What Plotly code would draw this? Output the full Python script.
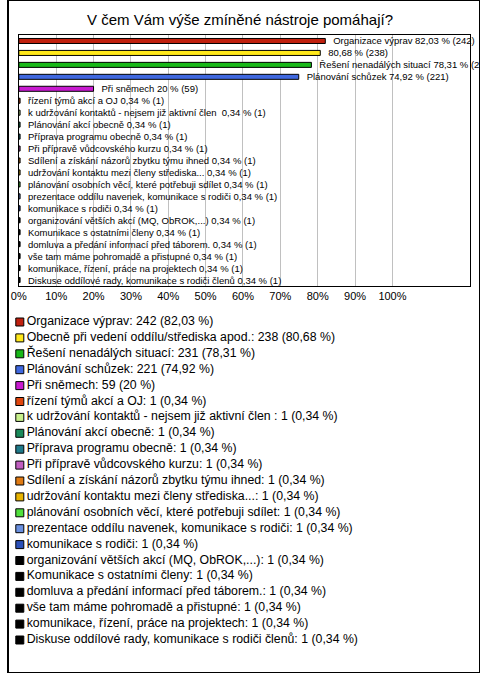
import plotly.graph_objects as go

# ---- data ----
categories = [
    "Organizace výprav",
    "Obecně při vedení oddílu/střediska apod.",
    "Řešení nenadálých situací",
    "Plánování schůzek",
    "Při sněmech",
    "řízení týmů akcí a OJ",
    "k udržování kontaktů - nejsem již aktivní člen ",
    "Plánování akcí obecně",
    "Příprava programu obecně",
    "Při přípravě vůdcovského kurzu",
    "Sdílení a získání názorů zbytku týmu ihned",
    "udržování kontaktu mezi členy střediska...",
    "plánování osobních věcí, které potřebuji sdílet",
    "prezentace oddílu navenek, komunikace s rodiči",
    "komunikace s rodiči",
    "organizování větších akcí (MQ, ObROK,...)",
    "Komunikace s ostatními členy",
    "domluva a předání informací před táborem.",
    "vše tam máme pohromadě a přistupné",
    "komunikace, řízení, práce na projektech",
    "Diskuse oddílové rady, komunikace s rodiči členů",
]
counts = [242, 238, 231, 221, 59] + [1] * 16
percents = [82.03, 80.68, 78.31, 74.92, 20] + [0.34] * 16
# bar label names (the second one is shown without its name in the chart)
bar_names = list(categories)
bar_names[1] = ""
colors = [
    "#c0200e", "#ffe81a", "#18b818", "#3f68e0", "#c81ad0",
    "#e0460e", "#c8f08c", "#1a8a5a", "#1f7a8a", "#c05ec0",
    "#e07a12", "#e8b400", "#50e03c", "#6a90e0", "#2a4fb8",
    "#000000", "#000000", "#000000", "#000000", "#000000", "#000000",
]
tick_vals = [0, 10, 20, 30, 40, 50, 60, 70, 80, 90, 100]
tick_text = [f"{v}%" for v in tick_vals]
title = "V čem Vám výše zmíněné nástroje pomáhají?"


def fmt(p):
    return f"{p:g}".replace(".", ",")


PAD = "\u00a0" * 3
bar_text = [PAD + (f"{n} " if n.strip() else "") + f"{fmt(p)} % ({c})"
            for n, p, c in zip(bar_names, percents, counts)]
legend_text = [f"{n}: {c} ({fmt(p)} %)" for n, p, c in zip(categories, percents, counts)]

W, H = 480, 673
FONT = "Liberation Sans, Arial, sans-serif"

fig = go.Figure()
idx = list(range(len(categories)))

fig.add_trace(go.Bar(
    x=percents, y=idx, orientation="h",
    marker=dict(color=colors, line=dict(color="#000000", width=1)),
    width=0.42,
    text=bar_text, textposition="outside", cliponaxis=False, constraintext="none",
    textfont=dict(family=FONT, size=9.5, color="#000000"),
    hoverinfo="skip", showlegend=False,
))

# custom legend drawn in a second, hidden coordinate system (pixel-like units)
fig.add_trace(go.Scatter(
    x=[12] * len(categories), y=idx, mode="markers",
    marker=dict(symbol="square", size=8, color=colors, line=dict(color="#000000", width=1)),
    xaxis="x2", yaxis="y2", hoverinfo="skip", showlegend=False, cliponaxis=False,
))
fig.add_trace(go.Scatter(
    x=[19] * len(categories), y=idx, mode="text",
    text=legend_text, textposition="middle right",
    textfont=dict(family=FONT, size=12.3, color="#000000"),
    xaxis="x2", yaxis="y2", hoverinfo="skip", showlegend=False, cliponaxis=False,
))

def py(px):
    return 1 - px / H

leg_top, leg_bot, leg_first, leg_step = 310, 662, 322, 15.9

fig.update_layout(
    width=W, height=H,
    margin=dict(l=0, r=0, t=0, b=0),
    paper_bgcolor="#ffffff", plot_bgcolor="#ffffff",
    font=dict(family=FONT, color="#000000"),
    title=dict(text=title, x=0.5, xanchor="center", y=py(20), yanchor="middle",
               font=dict(family=FONT, size=15, color="#000000")),
    xaxis=dict(domain=[11 / W, 470 / W], range=[0, 120.8],
               tickvals=tick_vals, ticktext=tick_text,
               showgrid=True, gridcolor="#c0c0c0", gridwidth=1,
               zeroline=False, showline=True, linecolor="#000000", linewidth=1,
               mirror=True, ticks="", tickfont=dict(size=11, color="#000000")),
    yaxis=dict(domain=[py(286), py(35)], range=[20.5, -0.5],
               showticklabels=False, showgrid=False, zeroline=False,
               showline=True, linecolor="#000000", linewidth=1, mirror=True, ticks=""),
    xaxis2=dict(domain=[0, 1], range=[0, W], visible=False, anchor="y2"),
    yaxis2=dict(domain=[py(leg_bot), py(leg_top)],
                range=[(leg_bot - leg_first) / leg_step, (leg_top - leg_first) / leg_step],
                visible=False, anchor="x2"),
    shapes=[dict(type="rect", xref="paper", yref="paper", x0=0, y0=0, x1=1, y1=1,
                 line=dict(color="#000000", width=2), fillcolor="rgba(0,0,0,0)")],
)

POST = (
    "document.documentElement.style.margin='0';"
    "document.documentElement.style.padding='0';"
    "document.documentElement.style.overflow='hidden';"
    "document.body.style.margin='0';document.body.style.padding='0';"
    "document.body.style.overflow='hidden';"
    "var d=document.getElementById('{plot_id}');"
    "d.style.position='absolute';d.style.left='0px';d.style.top='0px';"
    "window.scrollTo(0,0);"
)
fig.write_html("out.html", config={"displayModeBar": False}, post_script=POST)
